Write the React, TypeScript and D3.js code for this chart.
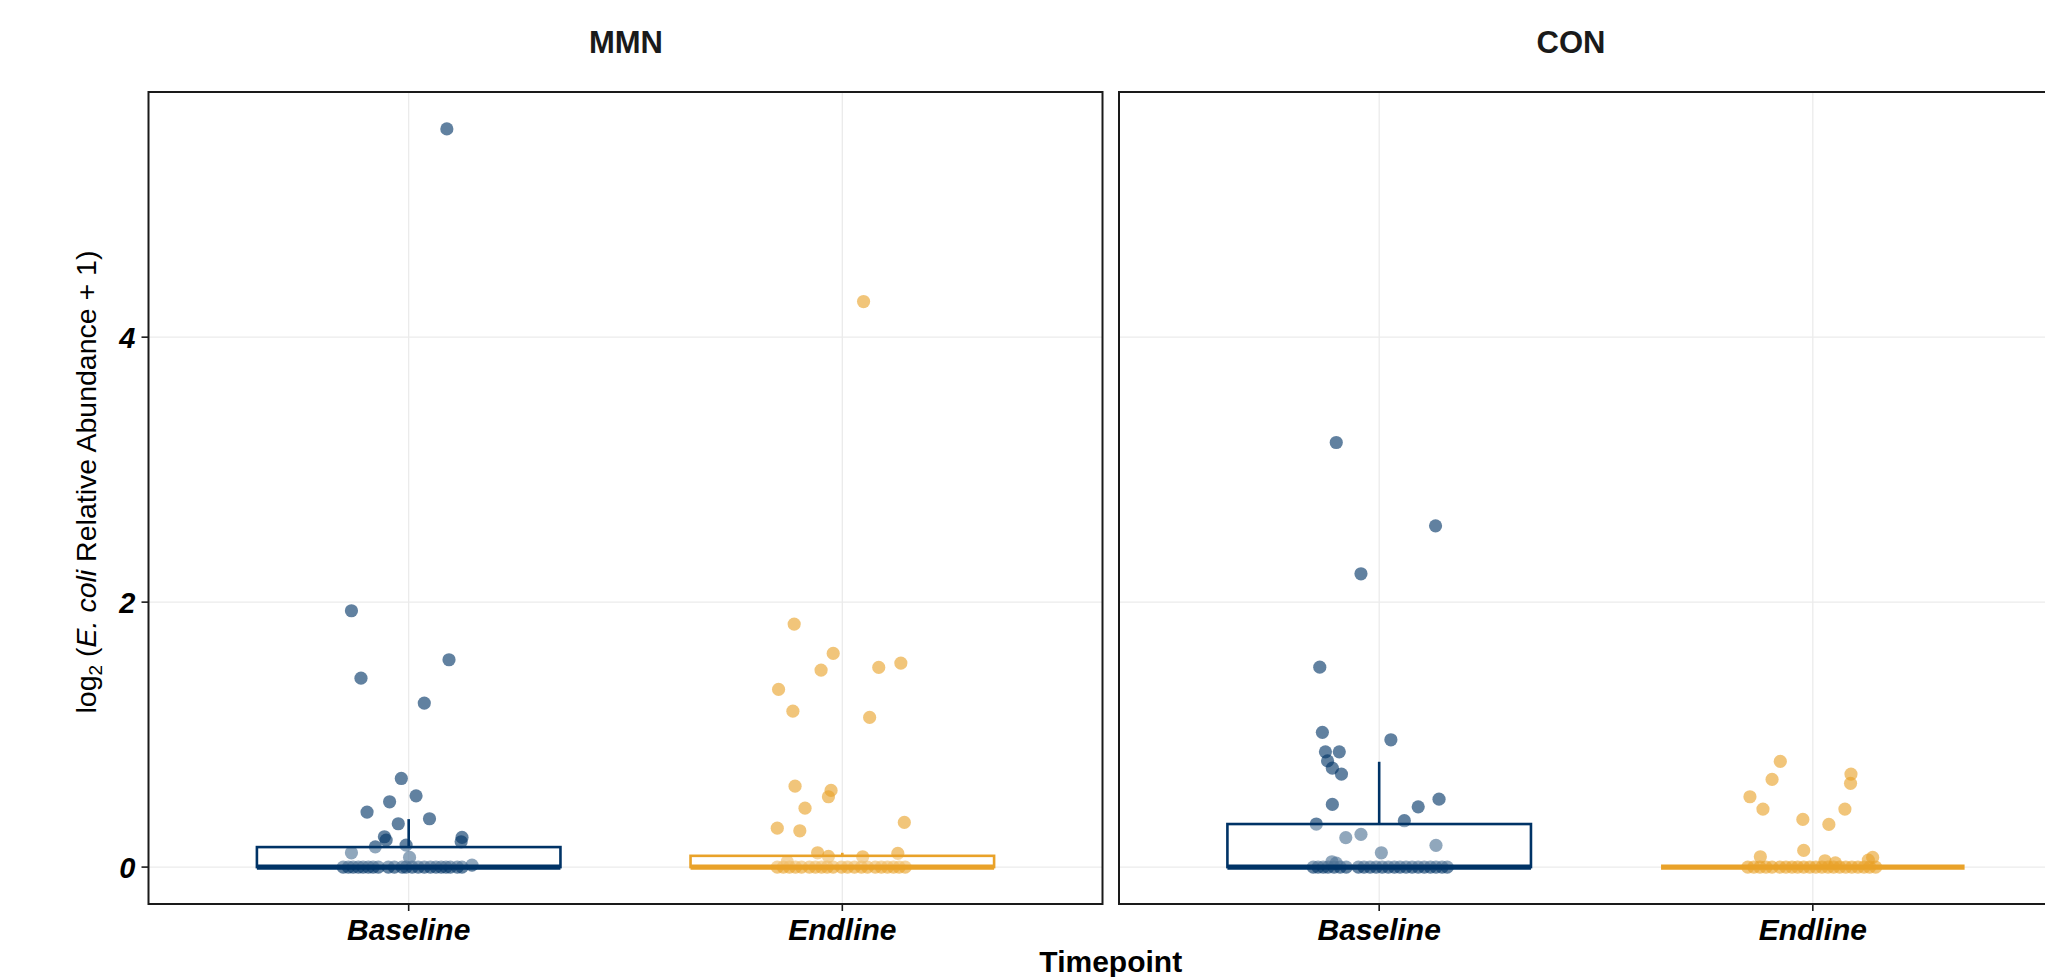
import React from 'react';
import * as d3 from 'd3';

// ---------- data ----------
const facets = ['MMN', 'CON'];
const timepoints = ['Baseline', 'Endline'];
const yTicks = [0, 2, 4];

// values (log2(rel. abundance + 1)) and jitter offsets (in category-step units)
const mmnBaselineValues = [
  5.572, 1.935, 1.565, 1.426, 1.238, 0.669, 0.538, 0.493, 0.415, 0.365, 0.327, 0.229, 0.204, 0.224, 0.191, 0.153, 0.166, 0.108, 0.073, 0.015,
  0, 0, 0, 0, 0, 0, 0, 0, 0, 0, 0, 0, 0, 0, 0, 0, 0, 0, 0, 0, 0, 0,
];
const mmnBaselineJitter = [
  0.088, -0.132, 0.093, -0.11, 0.036, -0.017, 0.017, -0.044, -0.096, 0.048, -0.024, -0.056, -0.052, 0.123, 0.121, -0.077, -0.006, -0.132, 0.002, 0.146,
  -0.151, -0.139, -0.128, -0.116, -0.105, -0.093, -0.082, -0.07, -0.047, -0.033, -0.015, -0.006, 0.008, 0.022, 0.036, 0.05, 0.063, 0.075, 0.086, 0.096, 0.112, 0.123,
];

const mmnEndlineValues = [
  4.269, 1.834, 1.613, 1.54, 1.507, 1.487, 1.341, 1.177, 1.13, 0.611, 0.579, 0.531, 0.445, 0.337, 0.294, 0.274, 0.108, 0.081, 0.078, 0.103, 0.04,
  0, 0, 0, 0, 0, 0, 0, 0, 0, 0, 0, 0, 0, 0, 0, 0, 0, 0, 0, 0, 0,
];
const mmnEndlineJitter = [
  0.049, -0.111, -0.021, 0.135, 0.084, -0.049, -0.147, -0.114, 0.063, -0.109, -0.026, -0.032, -0.086, 0.143, -0.15, -0.098, -0.057, -0.032, 0.047, 0.128, -0.127,
  -0.15, -0.136, -0.122, -0.108, -0.094, -0.076, -0.062, -0.048, -0.035, -0.021, -0.002, 0.012, 0.028, 0.044, 0.058, 0.076, 0.09, 0.104, 0.118, 0.131, 0.145,
];

const conBaselineValues = [
  3.205, 2.576, 2.214, 1.509, 1.017, 0.961, 0.87, 0.87, 0.802, 0.747, 0.702, 0.473, 0.513, 0.455, 0.35, 0.325, 0.222, 0.247, 0.164, 0.108, 0.04, 0.03,
  0, 0, 0, 0, 0, 0, 0, 0, 0, 0, 0, 0, 0, 0, 0, 0, 0, 0, 0, 0, 0, 0, 0,
];
const conBaselineJitter = [
  -0.099, 0.13, -0.042, -0.137, -0.131, 0.027, -0.124, -0.092, -0.119, -0.108, -0.087, -0.108, 0.138, 0.09, 0.058, -0.145, -0.077, -0.042, 0.131, 0.005, -0.109, -0.099,
  -0.152, -0.141, -0.129, -0.118, -0.104, -0.09, -0.076, -0.048, -0.035, -0.021, -0.007, 0.007, 0.021, 0.035, 0.048, 0.062, 0.076, 0.09, 0.104, 0.118, 0.131, 0.145, 0.157,
];

const conEndlineValues = [
  0.798, 0.662, 0.531, 0.438, 0.702, 0.632, 0.438, 0.36, 0.322, 0.126, 0.078, 0.048, 0.032, 0.073, 0.053,
  0, 0, 0, 0, 0, 0, 0, 0, 0, 0, 0, 0, 0, 0, 0, 0, 0, 0, 0, 0, 0, 0,
];
const conEndlineJitter = [
  -0.075, -0.094, -0.145, -0.115, 0.088, 0.087, 0.074, -0.023, 0.037, -0.021, -0.121, 0.028, 0.052, 0.138, 0.128,
  -0.15, -0.136, -0.122, -0.108, -0.094, -0.076, -0.062, -0.048, -0.035, -0.021, -0.007, 0.007, 0.021, 0.035, 0.048, 0.062, 0.076, 0.09, 0.104, 0.118, 0.131, 0.145,
];

// box statistics, order: MMN-Baseline, MMN-Endline, CON-Baseline, CON-Endline
const boxLowerHinge = [0, 0, 0, 0];
const boxMedian = [0, 0, 0, 0];
const boxUpperHinge = [0.151, 0.085, 0.325, 0];
const boxWhiskerLow = [0, 0, 0, 0];
const boxWhiskerHigh = [0.362, 0.108, 0.795, 0];

const groups = [
  { facet: 'MMN', time: 'Baseline', values: mmnBaselineValues, jitter: mmnBaselineJitter, box: 0 },
  { facet: 'MMN', time: 'Endline', values: mmnEndlineValues, jitter: mmnEndlineJitter, box: 1 },
  { facet: 'CON', time: 'Baseline', values: conBaselineValues, jitter: conBaselineJitter, box: 2 },
  { facet: 'CON', time: 'Endline', values: conEndlineValues, jitter: conEndlineJitter, box: 3 },
];

// ---------- styling ----------
const W = 2045;
const H = 977;
const FONT = "'Liberation Sans', Arial, Helvetica, sans-serif";
const colors: Record<string, string> = { Baseline: '#003366', Endline: '#E9A229' };

export default function App() {
  const panelTop = 92;
  const panelBottom = 904;
  const panelWidth = 954;
  const panelLeft: Record<string, number> = { MMN: 148.5, CON: 1119 };
  const titleX: Record<string, number> = { MMN: 626, CON: 1571 };

  const allVals = groups.flatMap((g) => g.values);
  const yMax = d3.max(allVals) as number;
  const yMin = d3.min(allVals) as number;
  const span = yMax - yMin;
  const y = d3
    .scaleLinear()
    .domain([yMin - 0.05 * span, yMax + 0.05 * span])
    .range([panelBottom, panelTop]);

  const xScales: Record<string, d3.ScalePoint<string>> = {};
  facets.forEach((f) => {
    xScales[f] = d3
      .scalePoint<string>()
      .domain(timepoints)
      .range([panelLeft[f], panelLeft[f] + panelWidth])
      .padding(0.6);
  });

  const boxWidth = 0.7; // in step units

  return (
    <div style={{ position: 'absolute', left: 0, top: 0 }}>
      <svg width={W} height={H} style={{ display: 'block', background: '#fff' }} fontFamily={FONT}>
        <rect x={0} y={0} width={W} height={H} fill="#fff" />
        {facets.map((f) => {
          const x = xScales[f];
          const step = x.step();
          const left = panelLeft[f];
          return (
            <g key={f}>
              {/* strip title */}
              <text x={titleX[f]} y={53} textAnchor="middle" fontSize={31} fontWeight="bold" fill="#1a1a1a">
                {f}
              </text>
              {/* grid */}
              <g>
                {yTicks.map((t) => (
                  <line key={'h' + t} x1={left} x2={left + panelWidth} y1={y(t)} y2={y(t)} stroke="#ebebeb" strokeWidth={1.3} />
                ))}
                {timepoints.map((tp) => (
                  <line key={'v' + tp} x1={x(tp)} x2={x(tp)} y1={panelTop} y2={panelBottom} stroke="#ebebeb" strokeWidth={1.3} />
                ))}
              </g>
              {/* groups */}
              {groups
                .filter((g) => g.facet === f)
                .map((g) => {
                  const cx0 = x(g.time) as number;
                  const col = colors[g.time];
                  const b = g.box;
                  const bx = cx0 - (boxWidth / 2) * step;
                  const bw = boxWidth * step;
                  const yQ1 = y(boxLowerHinge[b]);
                  const yQ3 = y(boxUpperHinge[b]);
                  const yMed = y(boxMedian[b]);
                  return (
                    <g key={g.time}>
                      {g.values.map((v, i) => (
                        <circle key={i} cx={cx0 + g.jitter[i] * step} cy={y(v)} r={6.6} fill={col} fillOpacity={0.62} />
                      ))}
                      {/* whiskers */}
                      <line x1={cx0} x2={cx0} y1={yQ3} y2={y(boxWhiskerHigh[b])} stroke={col} strokeWidth={2.6} />
                      <line x1={cx0} x2={cx0} y1={yQ1} y2={y(boxWhiskerLow[b])} stroke={col} strokeWidth={2.6} />
                      {/* box */}
                      <rect
                        x={bx}
                        y={yQ3}
                        width={bw}
                        height={Math.max(0, yQ1 - yQ3)}
                        fill="#fff"
                        fillOpacity={0.3}
                        stroke={col}
                        strokeWidth={2.6}
                      />
                      {/* median */}
                      <line x1={bx} x2={bx + bw} y1={yMed} y2={yMed} stroke={col} strokeWidth={5.2} />
                    </g>
                  );
                })}
              {/* panel border */}
              <rect x={left} y={panelTop} width={panelWidth} height={panelBottom - panelTop} fill="none" stroke="#1a1a1a" strokeWidth={2} />
              {/* x axis ticks + labels */}
              {timepoints.map((tp) => (
                <g key={'xt' + tp}>
                  <line x1={x(tp)} x2={x(tp)} y1={panelBottom} y2={panelBottom + 7} stroke="#1a1a1a" strokeWidth={1.6} />
                  <text x={x(tp)} y={940} textAnchor="middle" fontSize={30} fontWeight="bold" fontStyle="italic" fill="#000">
                    {tp}
                  </text>
                </g>
              ))}
            </g>
          );
        })}
        {/* y axis */}
        {yTicks.map((t) => (
          <g key={'yt' + t}>
            <line x1={panelLeft.MMN - 7} x2={panelLeft.MMN} y1={y(t)} y2={y(t)} stroke="#1a1a1a" strokeWidth={1.6} />
            <text x={panelLeft.MMN - 13} y={y(t)} dy="0.36em" textAnchor="end" fontSize={29} fontWeight="bold" fontStyle="italic" fill="#000">
              {t}
            </text>
          </g>
        ))}
        <text
          transform={`translate(96, ${(panelTop + panelBottom) / 2 - 16}) rotate(-90)`}
          textAnchor="middle"
          fontSize={28.5}
          fill="#000"
        >
          <tspan>log</tspan>
          <tspan fontSize={19} dy={6}>2</tspan>
          <tspan dy={-6}> (</tspan>
          <tspan fontStyle="italic">E. coli</tspan>
          <tspan> Relative Abundance + 1)</tspan>
        </text>
        <text x={(panelLeft.MMN + panelLeft.CON + panelWidth) / 2} y={972} textAnchor="middle" fontSize={30} fontWeight="bold" fill="#000">
          Timepoint
        </text>
      </svg>
    </div>
  );
}
